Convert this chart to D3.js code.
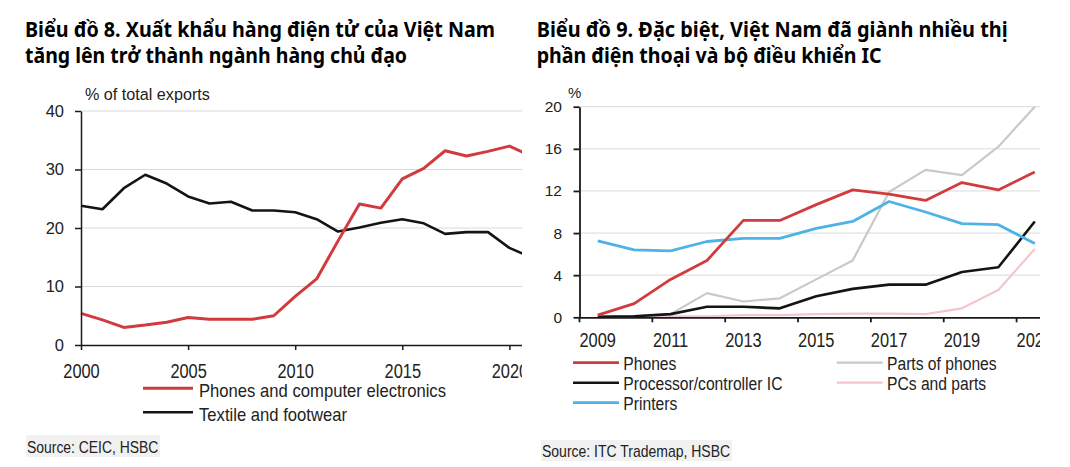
<!DOCTYPE html>
<html><head><meta charset="utf-8">
<script src="https://cdn.jsdelivr.net/npm/d3@7"></script>
<style>
body{margin:0;background:#fff}
svg{display:block}
text{font-family:"Liberation Sans",Arial,Helvetica,sans-serif;fill:#222}
.title{font-family:"Noto Sans","Open Sans",sans-serif;font-weight:700;fill:#000}
</style>
</head><body>
<svg id="c" width="1070" height="467"></svg>
<script>
// ---------- DATA ----------
// Chart 8
const titleL = ["Biểu đồ 8. Xuất khẩu hàng điện tử của Việt Nam", "tăng lên trở thành ngành hàng chủ đạo"];
const unitL = "% of total exports";
const yearsL = [2000,2001,2002,2003,2004,2005,2006,2007,2008,2009,2010,2011,2012,2013,2014,2015,2016,2017,2018,2019,2020,2021];
const phonesElectronics = [5.4,4.3,3.0,3.4,3.9,4.7,4.4,4.4,4.4,5.0,8.3,11.3,17.8,24.1,23.4,28.4,30.2,33.2,32.3,33.1,34.0,32.3];
const textileFootwear   = [23.8,23.2,26.8,29.1,27.6,25.4,24.2,24.5,23.0,23.0,22.7,21.5,19.4,20.1,20.9,21.5,20.8,19.0,19.3,19.3,16.6,15.0];
const seriesNamesL = ["Phones and computer electronics", "Textile and footwear"];
const xTicksL = [2000,2005,2010,2015,2020];
const yTicksL = [0,10,20,30,40];
const sourceL = "Source: CEIC, HSBC";

// Chart 9
const titleR = ["Biểu đồ 9. Đặc biệt, Việt Nam đã giành nhiều thị", "phần điện thoại và bộ điều khiển IC"];
const unitR = "%";
const yearsR = [2009,2010,2011,2012,2013,2014,2015,2016,2017,2018,2019,2020,2021];
const phones      = [0.2,1.3,3.6,5.4,9.2,9.2,10.7,12.1,11.7,11.1,12.8,12.1,13.8];
const processorIC = [0.05,0.1,0.3,1.0,1.0,0.85,2.0,2.7,3.1,3.1,4.3,4.75,9.1];
const printers    = [7.25,6.4,6.3,7.2,7.5,7.5,8.45,9.1,11.0,10.0,8.9,8.8,7.0];
const partsPhones = [0.0,0.1,0.3,2.3,1.5,1.8,3.6,5.4,11.9,14.0,13.5,16.2,20.0];
const pcsParts    = [0.1,0.1,0.1,0.1,0.2,0.2,0.3,0.35,0.35,0.3,0.85,2.6,6.5];
const seriesNamesR = ["Phones","Processor/controller IC","Printers","Parts of phones","PCs and parts"];
const xTickLabelsR = [2009,2011,2013,2015,2017,2019,2021];
const yTicksR = [0,4,8,12,16,20];
const sourceR = "Source: ITC Trademap, HSBC";

// ---------- STYLE ----------
const colors = {
  "Phones and computer electronics":"#d23b3d",
  "Textile and footwear":"#141414",
  "Phones":"#d23b3d",
  "Processor/controller IC":"#141414",
  "Printers":"#4db3e6",
  "Parts of phones":"#c9c9c9",
  "PCs and parts":"#f3c6cb"
};
const widths = {
  "Phones and computer electronics":3,
  "Textile and footwear":2.6,
  "Phones":2.8,
  "Processor/controller IC":2.6,
  "Printers":2.8,
  "Parts of phones":2.2,
  "PCs and parts":2.2
};
const gridColor = "#d9d9d9";

const svg = d3.select("#c");
const defs = svg.append("defs");
defs.append("clipPath").attr("id","clipL").append("rect").attr("x",0).attr("y",0).attr("width",522).attr("height",467);
defs.append("clipPath").attr("id","clipR").append("rect").attr("x",536).attr("y",0).attr("width",504).attr("height",467);

function stext(g, x, y, s, fs, sx, anchor){
  return g.append("text")
    .attr("transform",`translate(${x},${y}) scale(${sx},1)`)
    .attr("font-size",fs).attr("text-anchor",anchor||"start").text(s);
}
function title(lines, x){
  const widthsT = arguments[2];
  lines.forEach((s,i)=>{
    svg.append("text").attr("class","title").attr("x",x).attr("y",36.7+i*26.6)
      .attr("font-size",21).attr("textLength",widthsT[i]).attr("lengthAdjust","spacingAndGlyphs").text(s);
  });
}

// ---------- CHART 8 ----------
title(titleL, 25, [470, 382]);
const xL = d3.scaleLinear().domain([2000,2021]).range([81, 81+21*21.42]);
const yL = d3.scaleLinear().domain([0,40]).range([345,111]);
const gL = svg.append("g");
const plotL = gL.append("g").attr("clip-path","url(#clipL)");
plotL.selectAll(".grid").data(yTicksL.filter(d=>d>0)).join("line")
  .attr("x1",xL(2000)).attr("x2",xL(2021)).attr("y1",d=>yL(d)).attr("y2",d=>yL(d))
  .attr("stroke",gridColor).attr("stroke-width",1);

const lineL = d3.line().x((d,i)=>xL(yearsL[i])).y(d=>yL(d));
[[seriesNamesL[1], textileFootwear],[seriesNamesL[0], phonesElectronics]].forEach(([n,vals])=>{
  plotL.append("path").datum(vals).attr("d",lineL).attr("fill","none")
    .attr("stroke",colors[n]).attr("stroke-width",widths[n]).attr("stroke-linejoin","round");
});

const axXL = plotL.append("g").attr("transform",`translate(0,${yL(0)})`)
  .call(d3.axisBottom(xL).tickValues(xTicksL).tickFormat(d3.format("d")).tickSize(5).tickSizeOuter(0).tickPadding(13));
const axYL = gL.append("g").attr("transform",`translate(${xL(2000)},0)`)
  .call(d3.axisLeft(yL).tickValues(yTicksL).tickSize(6).tickSizeOuter(0).tickPadding(11));
[axXL, axYL].forEach(a=>{ a.attr("color","#1a1a1a"); a.selectAll("path,line").attr("stroke-width",1.5); a.selectAll("text").attr("fill","#222"); });
axXL.selectAll("text").attr("font-size",20.5).attr("transform","scale(0.8,1)");
axYL.selectAll("text").attr("font-size",16.5);

stext(gL, 85, 99.5, unitL, 16.5, 0.98, "start");

// legend
seriesNamesL.forEach((n,i)=>{
  const y = 388.3 + i*24;
  gL.append("line").attr("x1",143).attr("x2",193).attr("y1",y).attr("y2",y)
    .attr("stroke",colors[n]).attr("stroke-width",widths[n]);
  stext(gL, 199, y+8.2, n, 18, 0.925, "start");
});
// source
gL.append("rect").attr("x",26).attr("y",435).attr("width",134).attr("height",22).attr("fill","#f1f1f1");
stext(gL, 27, 452.7, sourceL, 16, 0.87, "start");

// ---------- CHART 9 ----------
title(titleR, 536.7, [471, 345]);
const xR = d3.scaleBand().domain(yearsR).range([579.5, 1053]).padding(0);
const yR = d3.scaleLinear().domain([0,20]).range([317.3,106.7]);
const cx = d => xR(d) + xR.bandwidth()/2;
const gR = svg.append("g");
const plotR = gR.append("g").attr("clip-path","url(#clipR)");
plotR.selectAll(".grid").data(yTicksR.filter(d=>d>0)).join("line")
  .attr("x1",xR.range()[0]).attr("x2",xR.range()[1]).attr("y1",d=>yR(d)).attr("y2",d=>yR(d))
  .attr("stroke",gridColor).attr("stroke-width",1);

const seriesR = {
  "Phones":phones, "Processor/controller IC":processorIC, "Printers":printers,
  "Parts of phones":partsPhones, "PCs and parts":pcsParts
};
const lineR = d3.line().x((d,i)=>cx(yearsR[i])).y(d=>yR(d));
["PCs and parts","Parts of phones","Processor/controller IC","Printers","Phones"].forEach(n=>{
  plotR.append("path").datum(seriesR[n]).attr("d",lineR).attr("fill","none")
    .attr("stroke",colors[n]).attr("stroke-width",widths[n]).attr("stroke-linejoin","round");
});

const axXR = plotR.append("g").attr("transform",`translate(0,${yR(0)})`)
  .call(d3.axisBottom(xR).tickValues(xTickLabelsR).tickSize(0).tickSizeOuter(0).tickPadding(15.5));
axXR.selectAll(".tickmark").data(xTickLabelsR).join("line").attr("class","tickmark")
  .attr("x1",d=>xR(d)).attr("x2",d=>xR(d)).attr("y1",0).attr("y2",5)
  .attr("stroke","currentColor");
const axYR = gR.append("g").attr("transform",`translate(${xR.range()[0]},0)`)
  .call(d3.axisLeft(yR).tickValues(yTicksR).tickSize(6).tickSizeOuter(0).tickPadding(11.5));
[axXR, axYR].forEach(a=>{ a.attr("color","#1a1a1a"); a.selectAll("path,line").attr("stroke-width",1.8); a.selectAll("text").attr("fill","#222"); });
axXR.selectAll("text").attr("font-size",20.5).attr("transform","scale(0.8,1)");
axYR.selectAll("text").attr("font-size",15.5);

stext(gR, 568, 98.3, unitR, 15, 1, "start");

// legend (two columns)
seriesNamesR.forEach((n,i)=>{
  const col = i < 3 ? 0 : 1;
  const row = i < 3 ? i : i-3;
  const x0 = col===0 ? 573 : 836.7;
  const y = 362.7 + row*20;
  gR.append("line").attr("x1",x0).attr("x2",x0+46).attr("y1",y).attr("y2",y)
    .attr("stroke",colors[n]).attr("stroke-width",widths[n]);
  stext(gR, x0+50.3, y+7.6, n, 18, 0.87, "start");
});
gR.append("rect").attr("x",541).attr("y",440).attr("width",191).attr("height",21).attr("fill","#f1f1f1");
stext(gR, 542, 457.3, sourceR, 16, 0.875, "start");
</script>
</body></html>
